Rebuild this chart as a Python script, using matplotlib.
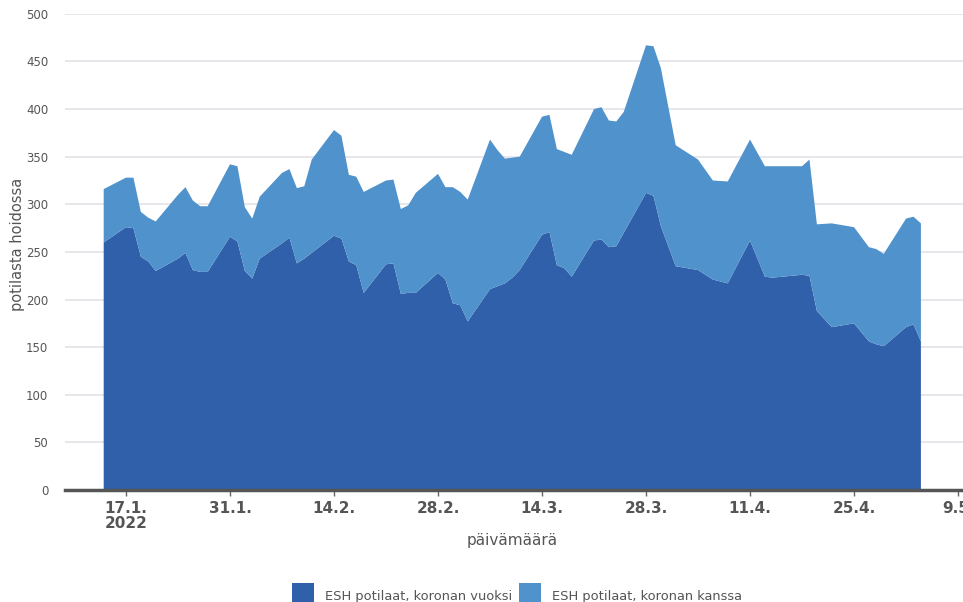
import matplotlib
matplotlib.use("Agg")
import matplotlib.pyplot as plt
import matplotlib.dates as mdates
from matplotlib.patches import Patch
import numpy as np

# Dates (weekdays with data)
dates = [
    "2022-01-14", "2022-01-17", "2022-01-18", "2022-01-19", "2022-01-20", "2022-01-21",
    "2022-01-24", "2022-01-25", "2022-01-26", "2022-01-27", "2022-01-28",
    "2022-01-31", "2022-02-01", "2022-02-02", "2022-02-03", "2022-02-04",
    "2022-02-07", "2022-02-08", "2022-02-09", "2022-02-10", "2022-02-11",
    "2022-02-14", "2022-02-15", "2022-02-16", "2022-02-17", "2022-02-18",
    "2022-02-21", "2022-02-22", "2022-02-23", "2022-02-24", "2022-02-25",
    "2022-02-28", "2022-03-01", "2022-03-02", "2022-03-03", "2022-03-04",
    "2022-03-07", "2022-03-08", "2022-03-09", "2022-03-10", "2022-03-11",
    "2022-03-14", "2022-03-15", "2022-03-16", "2022-03-17", "2022-03-18",
    "2022-03-21", "2022-03-22", "2022-03-23", "2022-03-24", "2022-03-25",
    "2022-03-28", "2022-03-29", "2022-03-30", "2022-04-01",
    "2022-04-04", "2022-04-06", "2022-04-08",
    "2022-04-11", "2022-04-13", "2022-04-14",
    "2022-04-18", "2022-04-19", "2022-04-20", "2022-04-22",
    "2022-04-25", "2022-04-27", "2022-04-28", "2022-04-29",
    "2022-05-02", "2022-05-03", "2022-05-04",
]

# Patients treated because of corona
vuoksi = [
    260, 276, 275, 245, 240, 230,
    243, 249, 231, 229, 229,
    266, 261, 230, 222, 243,
    259, 265, 238, 243, 249,
    267, 264, 240, 236, 207,
    237, 238, 206, 207, 207,
    228, 221, 196, 194, 177,
    211, 214, 217, 223, 231,
    268, 271, 236, 233, 224,
    262, 263, 255, 256, 270,
    312, 309, 277, 235,
    231, 221, 217,
    262, 224, 223,
    226, 225, 188, 171,
    175, 156, 153, 151,
    171, 174, 156,
]

# Total patients (with corona), read as top of the stack
total = [
    316, 328, 328, 292, 286, 282,
    310, 318, 304, 298, 298,
    342, 340, 297, 285, 308,
    333, 337, 317, 319, 347,
    378, 372, 331, 329, 313,
    325, 326, 295, 299, 312,
    332, 318, 318, 313, 305,
    368, 357, 348, 349, 350,
    392, 394, 358, 355, 352,
    400, 402, 388, 387, 397,
    467, 466, 443, 362,
    347, 325, 324,
    368, 340, 340,
    340, 347, 279, 280,
    276, 255, 253, 248,
    285, 287, 280,
]
kanssa = [t - v for t, v in zip(total, vuoksi)]

labels = ["ESH potilaat, koronan vuoksi", "ESH potilaat, koronan kanssa"]
colors = ["#2f60a9", "#5092cc"]

x = np.array(dates, dtype="datetime64[D]").astype("datetime64[ns]")
x = mdates.date2num(x)

fig = plt.figure(figsize=(9.63, 6.02), dpi=100)
ax = fig.add_axes([0.0675, 0.186, 0.9325, 0.791])

ax.stackplot(x, vuoksi, kanssa, colors=colors, linewidth=0)

ax.set_ylim(0, 500)
ax.set_yticks(np.arange(0, 501, 50))
ax.set_xlim(mdates.datestr2num("2022-01-08 19:00"), mdates.datestr2num("2022-05-09 16:00"))

ticks = ["2022-01-17", "2022-01-31", "2022-02-14", "2022-02-28", "2022-03-14",
         "2022-03-28", "2022-04-11", "2022-04-25", "2022-05-09"]
tick_labels = ["17.1.\n2022", "31.1.", "14.2.", "28.2.", "14.3.", "28.3.", "11.4.", "25.4.", "9.5."]
ax.set_xticks([mdates.datestr2num(t) for t in ticks])
ax.set_xticklabels(tick_labels, fontsize=11, fontweight="bold", color="#555555",
                   linespacing=1.0, va="top")
ax.tick_params(axis="x", length=4, width=1, color="#666666", pad=4)
ax.tick_params(axis="y", length=0, labelsize=8.5, labelcolor="#555555", pad=12)

ax.grid(axis="y", color="#e3e3e8", linewidth=1.2)
ax.set_axisbelow(True)
for side in ["top", "right", "left"]:
    ax.spines[side].set_visible(False)
ax.spines["bottom"].set_color("#555555")
ax.spines["bottom"].set_linewidth(2.5)
ax.spines["bottom"].set_zorder(5)

ax.set_ylabel("potilasta hoidossa", fontsize=10.5, color="#555555")
ax.yaxis.set_label_coords(-0.045, 0.515)
ax.set_xlabel("päivämäärä", fontsize=11, color="#555555")
ax.xaxis.set_label_coords(0.498, -0.09)

handles = [Patch(facecolor=c, edgecolor="none") for c in colors]
fig.legend(handles, labels, loc="lower center", bbox_to_anchor=(0.537, -0.03), ncol=2,
           frameon=False, fontsize=9.4, labelcolor="#555555", handlelength=1.7,
           handleheight=2.6, handletextpad=0.85, columnspacing=0.5)

fig.savefig("out.png", dpi=100)
